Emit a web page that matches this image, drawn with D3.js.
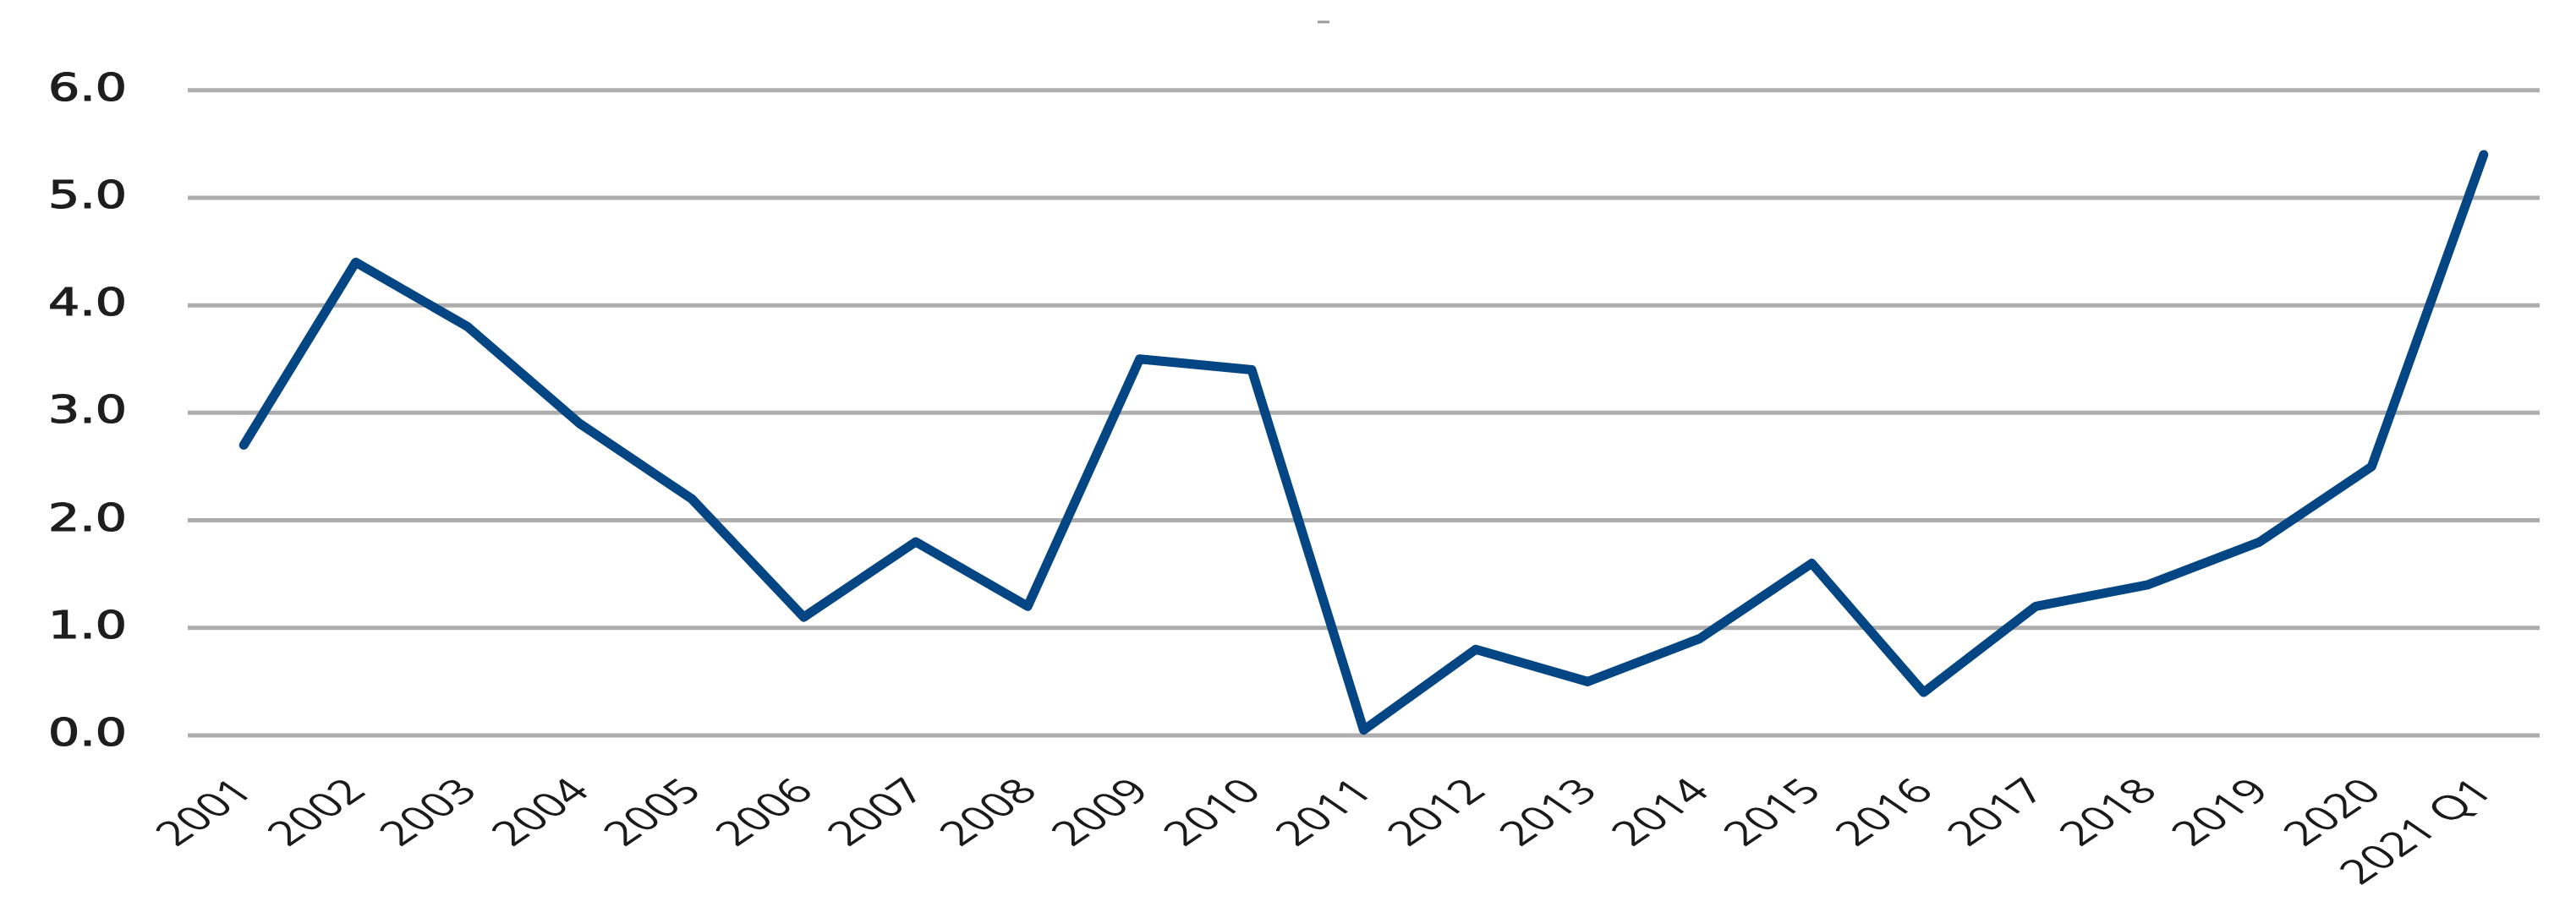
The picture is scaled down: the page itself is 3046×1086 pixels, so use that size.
<!DOCTYPE html>
<html>
<head>
<meta charset="utf-8">
<script src="https://cdn.jsdelivr.net/npm/d3@7"></script>
<style>
  html, body { margin: 0; padding: 0; background: #ffffff; }
  svg { display: block; }
</style>
</head>
<body>
<svg id="chart" width="3046" height="1086"></svg>
<script>
const categories = ["2001","2002","2003","2004","2005","2006","2007","2008","2009","2010",
  "2011","2012","2013","2014","2015","2016","2017","2018","2019","2020","2021 Q1"];
const values = [2.7, 4.4, 3.8, 2.9, 2.2, 1.1, 1.8, 1.2, 3.5, 3.4,
  0.05, 0.8, 0.5, 0.9, 1.6, 0.4, 1.2, 1.4, 1.8, 2.5, 5.4];
const yTicks = [0, 1, 2, 3, 4, 5, 6];
const yTickLabels = ["0.0", "1.0", "2.0", "3.0", "4.0", "5.0", "6.0"];

const svg = d3.select("#chart");
const plotLeft = 222, plotRight = 3003, plotTop = 106.7, plotBottom = 870;

const x = d3.scalePoint().domain(categories).range([plotLeft, plotRight]).padding(0.5);
const y = d3.scaleLinear().domain([0, 6]).range([plotBottom, plotTop]);

// tiny title remnant
svg.append("line")
  .attr("x1", 1558).attr("x2", 1572).attr("y1", 26).attr("y2", 26)
  .attr("stroke", "#9a9a9a").attr("stroke-width", 3);

// gridlines
svg.append("g").selectAll("line").data(yTicks).join("line")
  .attr("x1", plotLeft).attr("x2", plotRight)
  .attr("y1", d => y(d)).attr("y2", d => y(d))
  .attr("stroke", "#adadad").attr("stroke-width", 5);

// y labels: measured, then fitted so the ink spans x = 57 .. 150
const labelLeft = 57, labelWidth = 93;
svg.append("g").selectAll("text").data(yTicks).join("text")
  .attr("x", 0)
  .attr("y", d => y(d) + 12)
  .attr("text-anchor", "start")
  .attr("font-family", "DejaVu Sans, Verdana, sans-serif")
  .attr("font-size", 45)
  .attr("fill", "#1e1e1e")
  .attr("stroke", "#1e1e1e")
  .attr("stroke-width", 1.2)
  .text((d, i) => yTickLabels[i])
  .each(function () {
    const b = this.getBBox();
    const s = labelWidth / b.width;
    d3.select(this).attr("transform", `translate(${labelLeft - b.x * s},0) scale(${s},1)`);
  });

// x labels
svg.append("g").selectAll("text").data(categories).join("text")
  .attr("transform", d => `translate(${x(d) + 14},938) scale(1.45,1) rotate(-45)`)
  .attr("text-anchor", "end")
  .attr("font-family", "Open Sans, sans-serif")
  .attr("font-size", 40)
  .attr("fill", "#1a1a1a")
  .text(d => d);

// line
const line = d3.line()
  .x((d, i) => x(categories[i]))
  .y(d => y(d));

svg.append("path")
  .datum(values)
  .attr("d", line)
  .attr("fill", "none")
  .attr("stroke", "#044583")
  .attr("stroke-width", 11)
  .attr("stroke-linejoin", "round")
  .attr("stroke-linecap", "round");
</script>
</body>
</html>
